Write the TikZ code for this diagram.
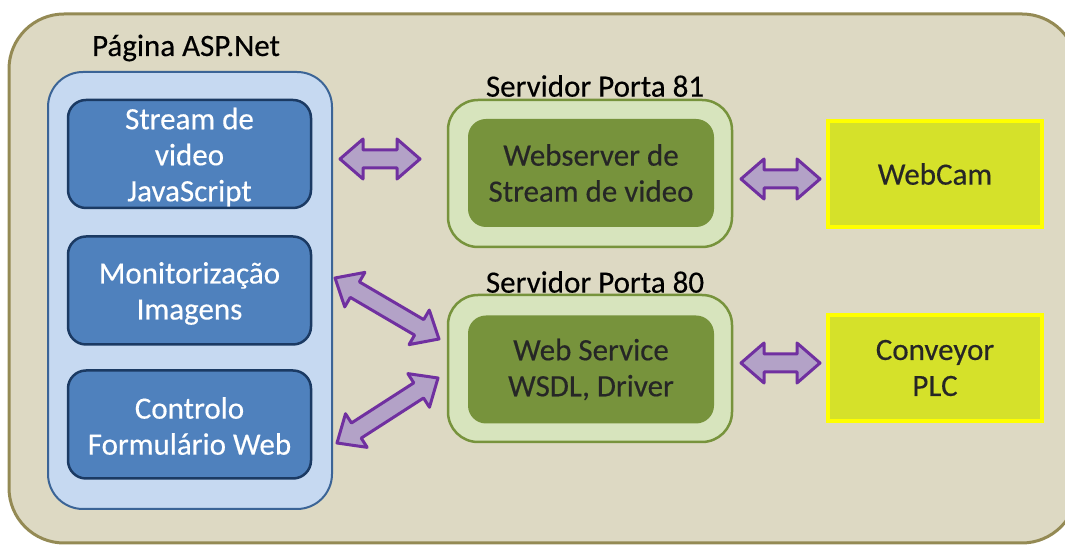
\documentclass[tikz,border=0pt]{standalone}
\usepackage{fontspec}
\setmainfont[FakeBold=0.35]{Carlito}
\usetikzlibrary{calc}

\definecolor{panelbg}{HTML}{DDD9C3}
\definecolor{panelline}{HTML}{948A54}
\definecolor{pagebg}{HTML}{C6D9F1}
\definecolor{pageline}{HTML}{3B6496}
\definecolor{blockbg}{HTML}{4F81BD}
\definecolor{blockline}{HTML}{1B3A63}
\definecolor{srvbg}{HTML}{D7E4BD}
\definecolor{srvline}{HTML}{77933C}
\definecolor{srvcore}{HTML}{77933C}
\definecolor{devbg}{HTML}{D5E12A}
\definecolor{devline}{HTML}{FFFF00}
\definecolor{arrbg}{HTML}{B3A2C7}
\definecolor{arrline}{HTML}{7030A0}
\definecolor{darktext}{HTML}{262626}

% two-headed block arrow between two named coordinates
\makeatletter
\newcommand\blockarrow[2]{%
  \path let \p1=($(#2)-(#1)$) in \pgfextra{%
    \pgfmathsetmacro\ba@len{veclen(\x1,\y1)}%
    \pgfmathsetmacro\ba@ang{atan2(\y1,\x1)}%
    \global\let\balen\ba@len
    \global\let\baang\ba@ang};
  \begin{scope}[shift={(#1)},rotate=\baang]
    \draw[dblarrow] (0,0) -- (23,20) -- (23,9) -- ({\balen-23},9)
      -- ({\balen-23},20) -- (\balen,0) -- ({\balen-23},-20)
      -- ({\balen-23},-9) -- (23,-9) -- (23,-20) -- cycle;
  \end{scope}}
\makeatother

\tikzset{
  txt/.style={font=\fontsize{31}{36}\selectfont, align=center},
  pagebox/.style={draw=pageline, fill=pagebg, line width=2pt, rounded corners=35pt},
  blockbox/.style={txt, draw=blockline, fill=blockbg, line width=2.5pt,
    rounded corners=18pt, text=white, minimum width=243pt, minimum height=108pt},
  srvbox/.style={draw=srvline, fill=srvbg, line width=2.5pt, rounded corners=30pt,
    minimum width=284pt, minimum height=147pt},
  corebox/.style={txt, fill=srvcore, rounded corners=18pt, text=darktext,
    minimum width=246pt, minimum height=108pt},
  devbox/.style={txt, draw=devline, fill=devbg, line width=3.5pt, text=darktext,
    minimum width=214pt, minimum height=106pt},
  title/.style={txt, text=black},
  dblarrow/.style={draw=arrline, fill=arrbg, line width=3pt, line join=round},
}

\begin{document}
\begin{tikzpicture}[x=1pt, y=1pt]
  \useasboundingbox (0,0) rectangle (1065,545);
  \begin{scope}
    \clip (0,0) rectangle (1065,545);
    \draw[panelline, fill=panelbg, line width=3pt, rounded corners=55pt]
      (9,2) rectangle (1077,531);
  \end{scope}

  % ASP.Net page and its blocks
  \node[title] (pagetitle) at (186,497) {Página ASP.Net};
  \draw[pagebox] (48,36) rectangle (332,473);
  \node[blockbox, text depth=0pt] (stream) at (189.5,391) {};
  \node[txt, text=white] (streamtxt) at (189.5,388) {Stream de\\video\\JavaScript};
  \node[blockbox] (monit) at (189.5,254.5) {};
  \node[txt, text=white] (monittxt) at (189.5,251.5) {Monitorização\\Imagens};
  \node[blockbox] (ctrl) at (189.5,120.5) {};
  \node[txt, text=white] (ctrltxt) at (189.5,119) {Controlo\\Formulário Web};

  % servers
  \node[title] (t81) at (595,459) {Servidor Porta 81};
  \node[srvbox] (srv81) at (590,371.5) {};
  \node[corebox] (web81) at (591,372) {Webserver de\\Stream de video};

  \node[title] (t80) at (595,263) {Servidor Porta 80};
  \node[srvbox] (srv80) at (590,176.5) {};
  \node[corebox] (web80) at (591,175.5) {Web Service\\WSDL, Driver};

  % devices
  \node[devbox] (cam) at (935,371) {WebCam};
  \node[devbox] (plc) at (935,177) {Conveyor\\PLC};

  % arrow end points
  \coordinate (a1s) at (340,386);  \coordinate (a1e) at (420,386);
  \coordinate (a2s) at (741,366);  \coordinate (a2e) at (820,366);
  \coordinate (a3s) at (741,182);  \coordinate (a3e) at (820,182);
  \coordinate (d1s) at (335,267);  \coordinate (d1e) at (439,206);
  \coordinate (d2s) at (337,102);  \coordinate (d2e) at (438,167);

  \blockarrow{a1s}{a1e}
  \blockarrow{a2s}{a2e}
  \blockarrow{a3s}{a3e}
  \blockarrow{d1s}{d1e}
  \blockarrow{d2s}{d2e}
\end{tikzpicture}
\end{document}
